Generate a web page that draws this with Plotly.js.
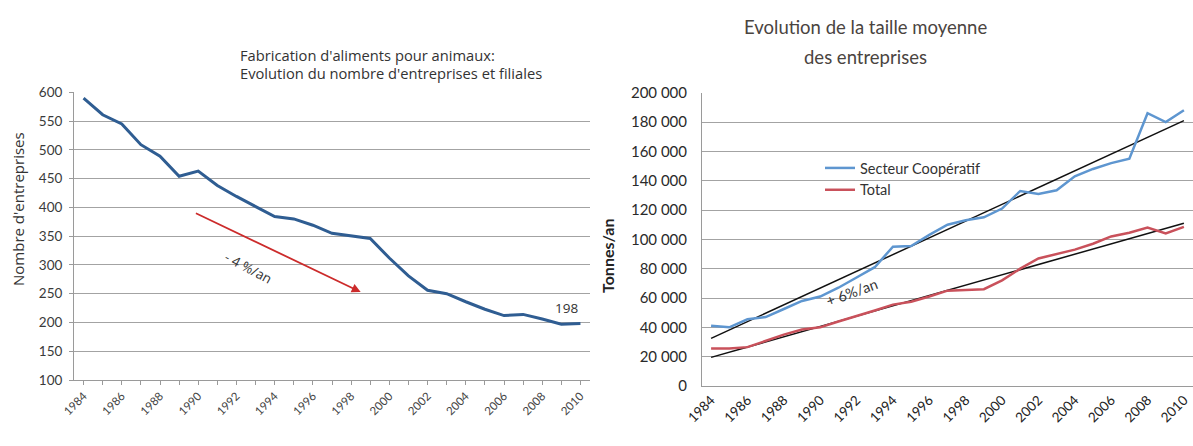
<!DOCTYPE html>
<html>
<head>
<meta charset="utf-8">
<script src="https://cdn.plot.ly/plotly-3.0.1.min.js"></script>
<style>html,body{margin:0;padding:0;background:#fff;}#chart{width:1193px;height:446px;}</style>
</head>
<body>
<div id="chart"></div>
<script>
// ---- data ----
const years = [1984,1985,1986,1987,1988,1989,1990,1991,1992,1993,1994,1995,1996,1997,1998,1999,2000,2001,2002,2003,2004,2005,2006,2007,2008,2009,2010];
const nbEntreprises = [590,561,545,509,489,454,463,438,419,401,384,380,369,355,351,346,312,281,256,250,236,223,212,214,206,197,198];
const secteurCoop = [41000,40000,45500,47000,52500,58000,61000,67000,74000,81000,95000,95500,103000,110000,113000,115000,121000,133000,131000,133500,143000,148000,152000,155000,186000,180000,188000];
const total = [25500,25500,26500,31000,35000,38500,40000,44000,47500,51500,55500,57500,61000,65000,65500,66000,72000,80000,87000,90000,93000,97000,102000,104500,108000,104000,108500];
const trendYears = [1984, 2010];
const trendCoop = [32500, 181000];
const trendTotal = [19500, 111000];
const seriesNames = ["Secteur Coopératif", "Total"];
const leftTitle = ["Fabrication d'aliments pour animaux:", "Evolution du nombre d'entreprises et filiales"];
const rightTitle = ["Evolution de la taille moyenne", "des entreprises"];

const W = 1193, H = 446;
const px = v => v / W;
const py = v => (H - v) / H;
const FONT = "Lato, 'Open Sans', sans-serif";
const FONT2 = "'Open Sans', Lato, sans-serif";

const traces = [
  {x: years, y: nbEntreprises, xaxis: 'x', yaxis: 'y', type: 'scatter', mode: 'lines',
   line: {color: '#2f5d92', width: 3}, showlegend: false, hoverinfo: 'skip'},
  {x: trendYears, y: trendCoop, xaxis: 'x2', yaxis: 'y2', type: 'scatter', mode: 'lines',
   line: {color: '#111', width: 1.5}, showlegend: false, hoverinfo: 'skip'},
  {x: trendYears, y: trendTotal, xaxis: 'x2', yaxis: 'y2', type: 'scatter', mode: 'lines',
   line: {color: '#111', width: 1.5}, showlegend: false, hoverinfo: 'skip'},
  {x: years, y: secteurCoop, xaxis: 'x2', yaxis: 'y2', type: 'scatter', mode: 'lines', name: seriesNames[0],
   line: {color: '#5e96d0', width: 2.5}},
  {x: years, y: total, xaxis: 'x2', yaxis: 'y2', type: 'scatter', mode: 'lines', name: seriesNames[1],
   line: {color: '#c9515b', width: 2.5}}
];

const gridCol = '#a3a3a3';
const layout = {
  width: W, height: H,
  margin: {l: 0, r: 0, t: 0, b: 0},
  paper_bgcolor: '#fff', plot_bgcolor: '#fff',
  separators: '. ',
  font: {family: FONT, color: '#333'},
  showlegend: true,
  legend: {x: px(820), y: py(152), xanchor: 'left', yanchor: 'top', bgcolor: 'rgba(0,0,0,0)',
           font: {size: 14.5, color: '#333', family: FONT}, tracegroupgap: 0, itemwidth: 30},
  xaxis: {domain: [px(74), px(590)], range: [1983.5, 2010.5], anchor: 'y',
          tick0: 1984, dtick: 2, tickangle: -45, tickfont: {size: 11.5, color: '#444'},
          showgrid: false, zeroline: false, showline: true, linecolor: '#9a9a9a', linewidth: 1,
          ticks: 'outside', ticklen: 4, tickcolor: '#9a9a9a',
          minor: {dtick: 1, ticks: 'outside', ticklen: 4, tickcolor: '#9a9a9a', showgrid: false}},
  yaxis: {domain: [py(380), py(92.3)], range: [100, 600], dtick: 50, anchor: 'x',
          tickfont: {size: 13.5, color: '#3a3a3a'}, gridcolor: gridCol, gridwidth: 1, ticklabelstandoff: 4,
          zeroline: false, showline: true, linecolor: '#9a9a9a', ticks: 'outside', ticklen: 4, tickcolor: '#9a9a9a'},
  xaxis2: {domain: [px(702), 1], range: [1983.5, 2010.5], anchor: 'y2',
           tick0: 1984, dtick: 2, tickangle: -45, tickfont: {size: 13.5, color: '#222'},
           showgrid: false, zeroline: false, showline: true, linecolor: '#9a9a9a', ticks: ''},
  yaxis2: {domain: [py(386), py(92.7)], range: [0, 200000], dtick: 20000, tickformat: ',d', anchor: 'x2',
           tickfont: {size: 15, color: '#2a2a2a'}, gridcolor: gridCol, gridwidth: 1, ticklabelstandoff: 11,
           zeroline: false, showline: true, linecolor: '#9a9a9a', ticks: ''},
  shapes: [
    {type: 'rect', xref: 'paper', yref: 'paper', x0: px(740), x1: px(1118), y0: py(196), y1: py(156),
     fillcolor: '#fff', line: {width: 0}, layer: 'between'}
  ],
  annotations: [
    {xref: 'paper', yref: 'paper', x: px(238), y: py(55), xanchor: 'left', yanchor: 'middle', showarrow: false,
     text: leftTitle[0], font: {size: 14.7, color: '#333', family: FONT2}},
    {xref: 'paper', yref: 'paper', x: px(238), y: py(73), xanchor: 'left', yanchor: 'middle', showarrow: false,
     text: leftTitle[1], font: {size: 14.7, color: '#333', family: FONT2}},
    {xref: 'paper', yref: 'paper', x: px(18), y: py(209), xanchor: 'center', yanchor: 'middle', textangle: -90, showarrow: false,
     text: "Nombre d'entreprises", font: {size: 15, color: '#333', family: FONT2}},
    {xref: 'x', yref: 'y', x: 1998.5, y: 253, ax: 1989.8, ay: 391, axref: 'x', ayref: 'y',
     text: '', showarrow: true, arrowhead: 2, arrowsize: 1, arrowwidth: 1.8, arrowcolor: '#cc2b2b', standoff: 0},
    {xref: 'x', yref: 'y', x: 1992.65, y: 295, xanchor: 'center', yanchor: 'middle', textangle: 28, showarrow: false,
     text: '- 4 %/an', font: {size: 13.5, color: '#333', family: FONT2}},
    {xref: 'x', yref: 'y', x: 2009.25, y: 225, xanchor: 'center', yanchor: 'middle', showarrow: false,
     text: '198', font: {size: 13.5, color: '#333', family: FONT2}},
    {xref: 'paper', yref: 'paper', x: px(866), y: py(27), xanchor: 'center', yanchor: 'middle', showarrow: false,
     text: rightTitle[0], font: {size: 18.5, color: '#4a443f'}},
    {xref: 'paper', yref: 'paper', x: px(866), y: py(57), xanchor: 'center', yanchor: 'middle', showarrow: false,
     text: rightTitle[1], font: {size: 18.5, color: '#4a443f'}},
    {xref: 'paper', yref: 'paper', x: px(607), y: py(256), xanchor: 'center', yanchor: 'middle', textangle: -90, showarrow: false,
     text: '<b>Tonnes/an</b>', font: {size: 16, color: '#222'}},
    {xref: 'x2', yref: 'y2', x: 1991.7, y: 64000, xanchor: 'center', yanchor: 'middle', textangle: -20, showarrow: false,
     text: '+ 6%/an', font: {size: 14.5, color: '#333'}}
  ]
};

Plotly.newPlot('chart', traces, layout, {displayModeBar: false, staticPlot: true});
</script>
</body>
</html>
